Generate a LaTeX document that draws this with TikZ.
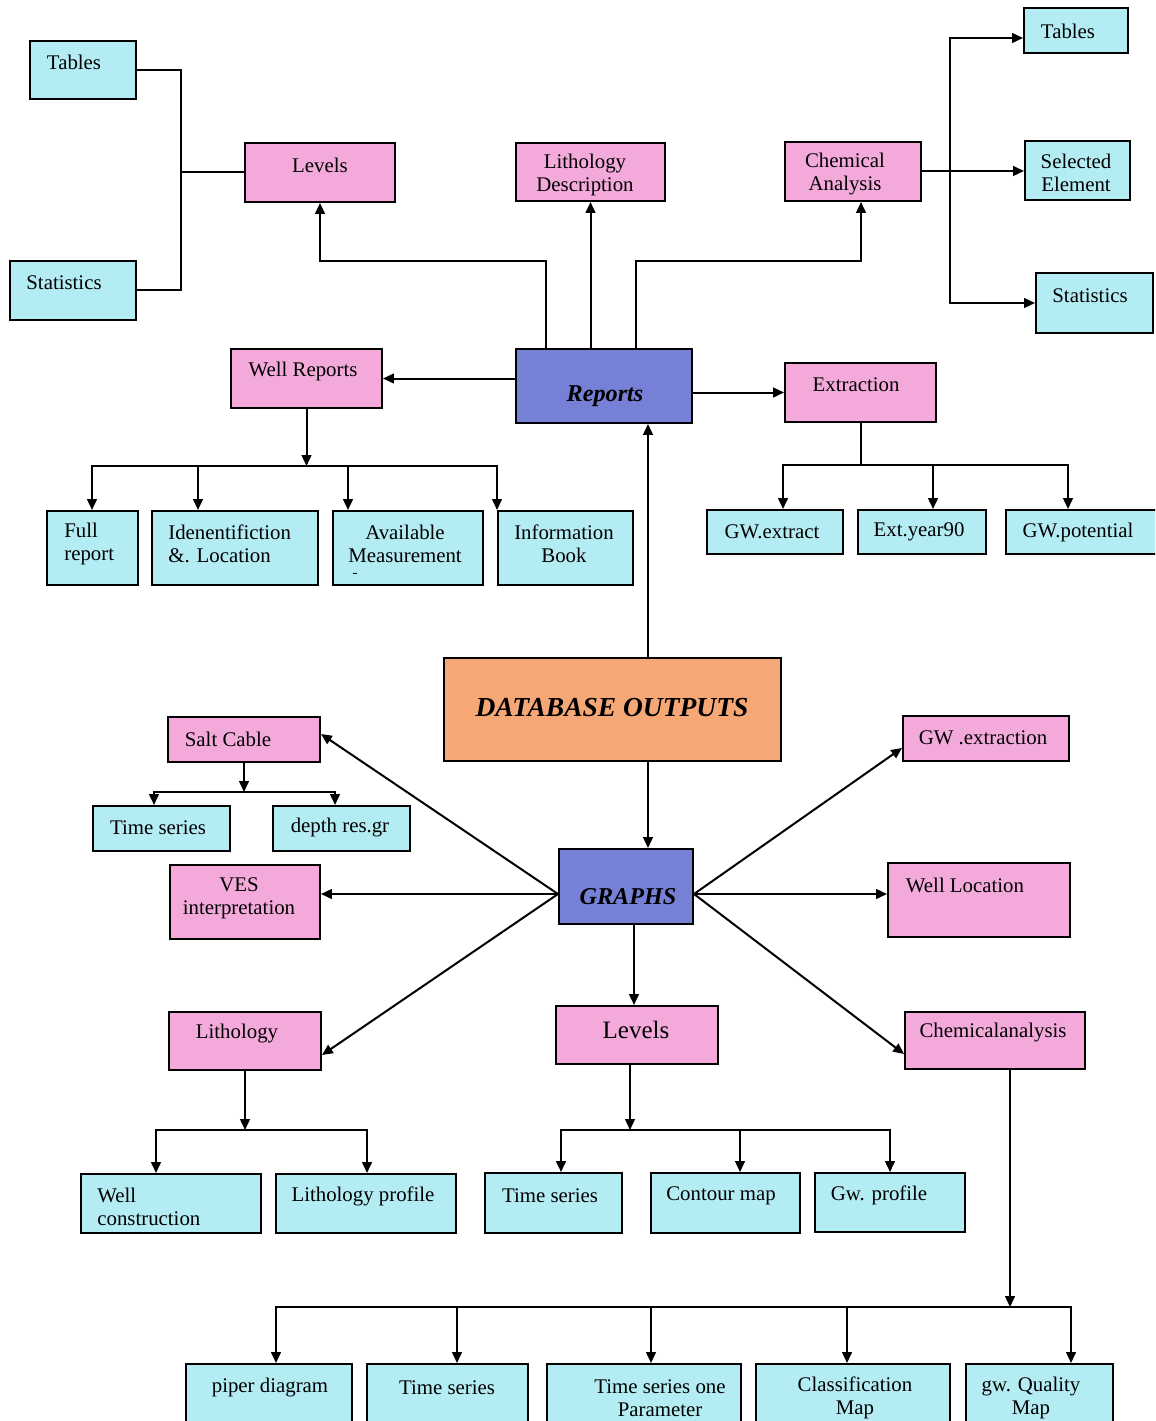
\documentclass[tikz,border=0pt]{standalone}
\usepackage{fontspec}
\setmainfont{Liberation Serif}
\usetikzlibrary{arrows.meta,fit}
\definecolor{boxcyan}{RGB}{180,236,243}
\definecolor{boxpink}{RGB}{243,170,218}
\definecolor{boxblue}{RGB}{118,128,214}
\definecolor{boxorange}{RGB}{245,168,117}
% box from two corners: name, x1, y1, x2, y2, fill
\newcommand\mkbox[6]{\node[box=#6,fit={(#2,#3)(#4,#5)}] (#1) {};}
\begin{document}
\begin{tikzpicture}[x=0.6pt,y=-0.6pt,
  box/.style={draw=black,line width=1.2pt,inner sep=0pt,fill=#1},
  lbl/.style={font=\fontsize{12.5}{13.8}\selectfont,align=center,inner sep=0pt},
  big/.style={font=\fontsize{14.5}{16}\selectfont\bfseries\itshape,inner sep=0pt},
  con/.style={line width=1.2pt},
  arr/.style={con,-{Triangle[length=6.5pt,width=5.8pt]}}]
\clip (0,0) rectangle (1155,1421);
\fill[white] (0,0) rectangle (1155,1421);

% ---------- Reports branch ----------
\mkbox{tabL}{30}{41}{136}{99}{boxcyan}
\mkbox{statL}{10}{261}{136}{320}{boxcyan}
\mkbox{levT}{245}{143}{395}{202}{boxpink}
\mkbox{litT}{516}{143}{665}{201}{boxpink}
\mkbox{chemT}{785}{142}{921}{201}{boxpink}
\mkbox{tabR}{1024}{8}{1128}{53}{boxcyan}
\mkbox{selEl}{1025}{141}{1130}{200}{boxcyan}
\mkbox{statR}{1036}{273}{1153}{333}{boxcyan}
\mkbox{rep}{516}{349}{692}{423}{boxblue}
\mkbox{wr}{231}{349}{382}{408}{boxpink}
\mkbox{ext}{785}{363}{936}{422}{boxpink}
\mkbox{full}{47}{511}{138}{585}{boxcyan}
\mkbox{iden}{152}{511}{318}{585}{boxcyan}
\mkbox{avail}{333}{511}{483}{585}{boxcyan}
\mkbox{info}{498}{511}{633}{585}{boxcyan}
\mkbox{gwx}{707}{510}{843}{554}{boxcyan}
\mkbox{ey90}{858}{510}{986}{554}{boxcyan}
\mkbox{gwp}{1006}{510}{1160}{554}{boxcyan}

\node[lbl] (tabL-t) at (74,62) {Tables};
\node[lbl] (statL-t) at (64,283) {Statistics};
\node[lbl] (levT-t) at (320,165) {Levels};
\node[lbl] (litT-t) at (585,175) {Lithology\\Description};
\node[lbl] (chemT-t) at (845,174) {Chemical\\Analysis};
\node[lbl] (tabR-t) at (1068,31) {Tables};
\node[lbl] (selEl-t) at (1076,173) {Selected\\Element};
\node[lbl] (statR-t) at (1090,296) {Statistics};
\node[big] (rep-t) at (605,396) {Reports};
\node[lbl] (wr-t) at (303,371) {Well Reports};
\node[lbl] (ext-t) at (856,385) {Extraction};
\node[lbl,align=left,anchor=west] (full-t) at (64,544) {Full\\report};
\node[lbl,align=left,anchor=west] (iden-t) at (168,544) {Idenentifiction\\\&. Location};
\node[lbl] (avail-t) at (405,544) {Available\\Measurement};
\node[lbl,font=\fontsize{9}{10}\selectfont] (avail-d) at (355,575) {-};
\node[lbl] (info-t) at (564,544) {Information\\Book};
\node[lbl] (gwx-t) at (772,532) {GW.extract};
\node[lbl] (ey90-t) at (919,532) {Ext.year90};
\node[lbl] (gwp-t) at (1078,532) {GW.potential};

% top-left bracket
\coordinate (jL) at (181,172);
\draw[con] (levT.west |- jL) -- (jL);
\draw[con] (tabL.east) -| (jL) |- (statL.east);
% top-right fan
\coordinate (jR) at (950,171);
\draw[arr] (chemT.east |- jR) -- (selEl.west |- jR);
\draw[arr] (jR) |- ([yshift=-4.5pt]tabR.west);
\draw[arr] (jR) |- (statR.west);
% Reports to the three upper boxes
\draw[arr] (rep.north -| 546,0) -- (546,261) -| (levT.south);
\draw[arr] (rep.north -| litT.south) -- (litT.south);
\draw[arr] (rep.north -| 636,0) -- (636,261) -| (chemT.south -| 861,0);
% Reports sideways
\draw[arr] (rep.west |- wr.east) -- (wr.east);
\draw[arr] (rep.east |- ext.west) -- (ext.west);
% Well Reports fan
\coordinate (wbar) at (wr.south |- 0,466);
\draw[arr] (wr.south) -- (wbar);
\draw[arr] (wbar) -| (full.north -| 92,0);
\draw[arr] (wbar) -| (iden.north -| 198,0);
\draw[arr] (wbar) -| (avail.north -| 348,0);
\draw[arr] (wbar) -| (info.north west);
% Extraction fan
\coordinate (ebar) at (ext.south |- 0,465);
\draw[con] (ext.south) -- (ebar);
\draw[arr] (ebar) -| (gwx.north -| 783,0);
\draw[arr] (ebar) -| (ey90.north -| 933,0);
\draw[arr] (ebar) -| (gwp.north -| 1068,0);

% ---------- centre ----------
\mkbox{db}{444}{658}{781}{761}{boxorange}
\node[big,font=\fontsize{16.5}{18}\selectfont\bfseries\itshape] (db-t) at (612,708) {DATABASE OUTPUTS};
\mkbox{gr}{559}{849}{693}{924}{boxblue}
\node[big] (gr-t) at (628,897) {GRAPHS};
\draw[arr] (db.north -| 648,0) -- (rep.south -| 648,0);
\draw[arr] (db.south -| 648,0) -- (gr.north -| 648,0);

% ---------- Graphs branch ----------
\mkbox{salt}{168}{717}{320}{762}{boxpink}
\mkbox{ts1}{93}{806}{230}{851}{boxcyan}
\mkbox{drg}{273}{806}{410}{851}{boxcyan}
\mkbox{ves}{170}{865}{320}{939}{boxpink}
\mkbox{lith}{169}{1012}{321}{1070}{boxpink}
\mkbox{wc}{81}{1174}{261}{1233}{boxcyan}
\mkbox{lp}{276}{1174}{456}{1233}{boxcyan}
\mkbox{lev2}{556}{1006}{718}{1064}{boxpink}
\mkbox{ts2}{485}{1173}{622}{1233}{boxcyan}
\mkbox{cm}{651}{1173}{800}{1233}{boxcyan}
\mkbox{gwpr}{815}{1173}{965}{1232}{boxcyan}
\mkbox{gwe}{903}{716}{1069}{761}{boxpink}
\mkbox{wl}{888}{863}{1070}{937}{boxpink}
\mkbox{chm}{905}{1012}{1085}{1069}{boxpink}
\mkbox{pd}{186}{1364}{352}{1440}{boxcyan}
\mkbox{ts3}{367}{1364}{528}{1440}{boxcyan}
\mkbox{tsp}{547}{1364}{741}{1440}{boxcyan}
\mkbox{clm}{756}{1364}{950}{1440}{boxcyan}
\mkbox{gqm}{966}{1364}{1113}{1440}{boxcyan}

\node[lbl] (salt-t) at (228,739) {Salt Cable};
\node[lbl] (ts1-t) at (158,828) {Time series};
\node[lbl] (drg-t) at (340,828) {depth res.gr};
\node[lbl] (ves-t) at (239,898) {VES\\interpretation};
\node[lbl] (lith-t) at (237,1034) {Lithology};
\node[lbl,align=left,anchor=west] (wc-t) at (97,1207) {Well\\construction};
\node[lbl] (lp-t) at (363,1196) {Lithology profile};
\node[lbl,font=\fontsize{15}{16}\selectfont] (lev2-t) at (636,1030) {Levels};
\node[lbl] (ts2-t) at (550,1196) {Time series};
\node[lbl] (cm-t) at (721,1196) {Contour map};
\node[lbl] (gwpr-t) at (879,1195) {Gw. profile};
\node[lbl] (gwe-t) at (983,738) {GW .extraction};
\node[lbl] (wl-t) at (965,885) {Well Location};
\node[lbl] (chm-t) at (993,1033) {Chemicalanalysis};
\node[lbl] (pd-t) at (270,1388) {piper diagram};
\node[lbl] (ts3-t) at (447,1388) {Time series};
\node[lbl] (tsp-t) at (660,1398) {Time series one\\Parameter};
\node[lbl] (clm-t) at (855,1398) {Classification\\Map};
\node[lbl] (gqm-t) at (1031,1398) {gw. Quality\\Map};

% spokes out of GRAPHS
\coordinate (gL) at (gr.west |- 0,894);
\coordinate (gR) at (gr.east |- 0,894);
\draw[arr] (gL) -- (salt.east |- 0,734);
\draw[arr] (gL) -- (ves.east |- gL);
\draw[arr] (gL) -- (lith.east |- 0,1055);
\draw[arr] (gR) -- (gwe.west |- 0,748);
\draw[arr] (gR) -- (wl.west |- gR);
\draw[arr] (gR) -- (chm.west |- 0,1054);
\draw[arr] (gr.south -| 634,0) -- (lev2.north -| 634,0);

% Salt Cable fan
\coordinate (sbar) at (salt.south |- 0,792);
\draw[arr] (salt.south) -- (sbar);
\draw[arr] (sbar) -| (ts1.north -| 154,0);
\draw[arr] (sbar) -| (drg.north -| 335,0);
% Lithology fan
\coordinate (lbar) at (lith.south |- 0,1130);
\draw[arr] (lith.south) -- (lbar);
\draw[arr] (lbar) -| (wc.north -| 156,0);
\draw[arr] (lbar) -| (lp.north -| 367,0);
% Levels fan
\coordinate (vtop) at (lev2.south -| 630,0);
\draw[arr] (vtop) -- (630,1130) coordinate (vbar);
\draw[arr] (vbar) -| (ts2.north -| 561,0);
\draw[arr] (vbar) -| (cm.north -| 740,0);
\draw[arr] (vbar) -| (gwpr.north -| 890,0);
% Chemical analysis fan
\coordinate (ctop) at (chm.south -| 1010,0);
\draw[arr] (ctop) -- (1010,1307) coordinate (cbar);
\draw[arr] (cbar) -| (pd.north -| 276,0);
\draw[arr] (cbar) -| (ts3.north -| 457,0);
\draw[arr] (cbar) -| (tsp.north -| 651,0);
\draw[arr] (cbar) -| (clm.north -| 847,0);
\draw[arr] (cbar) -| (gqm.north -| 1071,0);
\end{tikzpicture}
\end{document}
